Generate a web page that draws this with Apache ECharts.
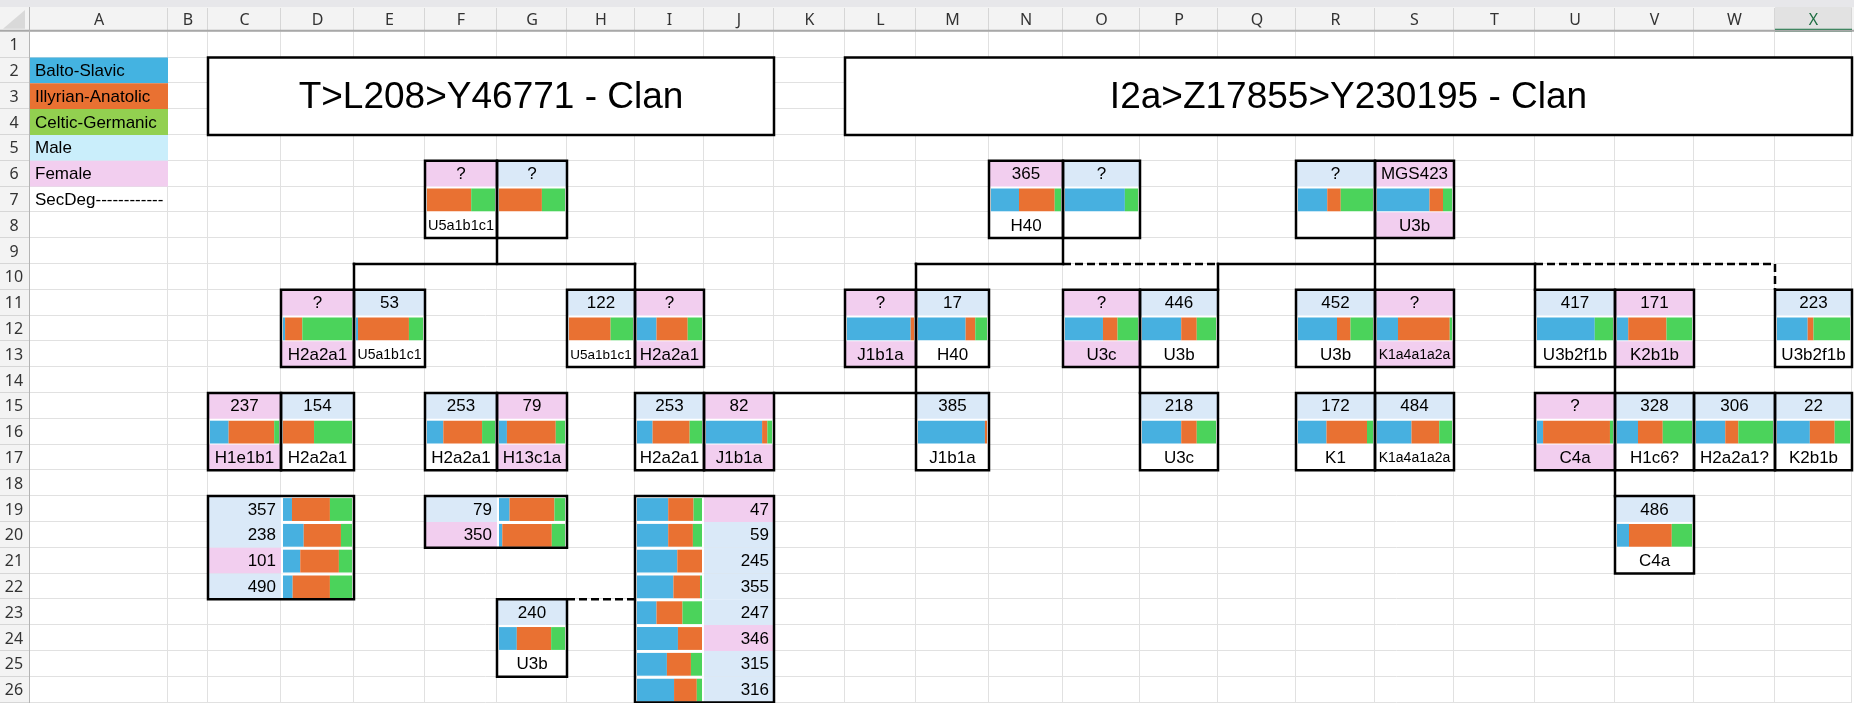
<!DOCTYPE html>
<html>
<head>
<meta charset="utf-8">
<title>Clan tree</title>
<script src="https://cdn.jsdelivr.net/npm/echarts@6.0.0/dist/echarts.min.js"></script>
<style>
html, body { margin: 0; padding: 0; background: #fff; }
#sheet { width: 1854px; height: 703px; }
</style>
</head>
<body>
<div id="sheet"></div>
<script>
// ---- sheet labels ----
var columns = ['A','B','C','D','E','F','G','H','I','J','K','L','M','N','O','P','Q','R','S','T','U','V','W','X'];
var rowLabels = [1,2,3,4,5,6,7,8,9,10,11,12,13,14,15,16,17,18,19,20,21,22,23,24,25,26];
var legendLabels = ['Balto-Slavic','Illyrian-Anatolic','Celtic-Germanic','Male','Female','SecDeg------------'];
var titles = ['T>L208>Y46771 - Clan', 'I2a>Z17855>Y230195 - Clan'];

// ---- people: top cell, sex, id, [Balto-Slavic, Illyrian-Anatolic, Celtic-Germanic] %, haplogroup, pink haplogroup cell ----
var leftClan = [
	['F6','F','?',[0,65,35],'U5a1b1c1',0],
	['G6','M','?',[0,65,35],'',0],
	['D11','F','?',[3,25,72],'H2a2a1',1],
	['E11','M','53',[3,76,21],'U5a1b1c1',0],
	['H11','M','122',[0,65,35],'U5a1b1c1',0],
	['I11','F','?',[30,48,22],'H2a2a1',1],
	['C15','F','237',[27,66,7],'H1e1b1',1],
	['D15','M','154',[0,45,55],'H2a2a1',0],
	['F15','M','253',[24,57,19],'H2a2a1',0],
	['G15','F','79',[12,74,14],'H13c1a',1],
	['I15','M','253',[24,57,19],'H2a2a1',0],
	['J15','F','82',[85,8,7],'J1b1a',1],
	['G23','M','240',[27,52,21],'U3b',0]
];
var middleClan = [
	['N6','F','365',[40,51,9],'H40',0],
	['O6','M','?',[82,0,18],'',0],
	['L11','F','?',[95,5,0],'J1b1a',1],
	['M11','M','17',[69,14,17],'H40',0],
	['M15','M','385',[97,3,0],'J1b1a',0],
	['O11','F','?',[52,20,28],'U3c',1],
	['P11','M','446',[53,21,26],'U3b',0],
	['P15','M','218',[53,21,26],'U3c',0]
];
var rightClan = [
	['R6','M','?',[39,18,43],'',0],
	['S6','F','MGS423',[70,18,12],'U3b',1],
	['R11','M','452',[52,18,30],'U3b',0],
	['S11','F','?',[28,69,3],'K1a4a1a2a',1],
	['R15','M','172',[38,54,8],'K1',0],
	['S15','M','484',[46,37,17],'K1a4a1a2a',0],
	['U11','M','417',[76,0,24],'U3b2f1b',0],
	['V11','F','171',[15,51,34],'K2b1b',1],
	['X11','M','223',[42,8,50],'U3b2f1b',0],
	['U15','F','?',[8,88,4],'C4a',1],
	['V15','M','328',[28,33,39],'H1c6?',0],
	['W15','M','306',[38,17,45],'H2a2a1?',0],
	['X15','M','22',[45,34,21],'K2b1b',0],
	['V19','M','486',[16,57,27],'C4a',0]
];

// ---- second-degree lists: id, sex, mix ----
var listC19 = [['357','M',[13,55,32]],['238','M',[30,54,16]],['101','F',[25,56,19]],['490','M',[14,54,32]]];
var listF19 = [['79','M',[16,68,16]],['350','F',[5,75,20]]];
var listI19 = [['47','F',[48,39,13]],['59','M',[48,38,14]],['245','M',[62,38,0]],['355','M',[56,41,3]],
	['247','M',[30,40,30]],['346','F',[63,37,0]],['315','M',[46,37,17]],['316','M',[57,35,8]]];

// ---- connectors: [column edge, row edge] pairs (left edge of column, top of row) ----
var solidLinks = [
	[['G',9],['G',10]], [['E',10],['I',10]], [['E',10],['E',11]], [['I',10],['I',11]],
	[['K',15],['M',15]],
	[['O',9],['O',10]], [['M',10],['O',10]], [['M',10],['M',11]], [['M',14],['M',15]],
	[['Q',10],['Q',11]], [['P',14],['P',15]],
	[['S',9],['S',11]], [['S',14],['S',15]], [['Q',10],['U',10]], [['U',10],['U',11]],
	[['V',14],['V',15]], [['V',18],['V',19]]
];
var dashedLinks = [
	[['O',10],['Q',10]], [['U',10],['X',10]], [['X',10],['X',11]], [['H',23],['I',23]]
];

// ---- layout ----
var COL_W = [138,40,73,73,71,72,70,68,69,70,71,71,73,74,77,78,78,79,79,81,80,79,81,77];
var ROW_H = 25.8, HDR_H = 31.7, BAND_H = 7, ROWHDR_W = 30;
var Y_MIN = -HDR_H / ROW_H, Y_MAX = (703 - HDR_H) / ROW_H;
var MALE = '#dae9f8', FEMALE = '#f2ceef';
var BAR_COLORS = ['#47b0e0', '#e97132', '#4bd35b'];
var LEGEND_FILLS = ['#44b3e1', '#e97132', '#92d050', '#caeefb', '#f2ceef', null];
var FONT = '"Liberation Sans", Arial, sans-serif';
var HDR_FONT = '16px "Noto Sans", "Open Sans", sans-serif';

var colX = {};
(function () {
	var acc = 0;
	columns.forEach(function (c, i) { colX[c] = acc; acc += COL_W[i]; });
	colX['Y'] = acc;
})();
function leftOf(col) { return colX[col]; }
function rightOf(col) { return colX[col] + COL_W[columns.indexOf(col)]; }
function cellOf(ref) { var m = /^([A-Z])(\d+)$/.exec(ref); return { col: m[1], row: +m[2] }; }

function box(api, x0, y0, x1, y1) {
	var a = api.coord([x0, y0]), b = api.coord([x1, y1]);
	return { x: a[0], y: a[1], width: b[0] - a[0], height: b[1] - a[1] };
}

var measureCtx = document.createElement('canvas').getContext('2d');
function fitSize(text, width, base) {
	measureCtx.font = base + 'px ' + FONT;
	var w = measureCtx.measureText(text).width;
	return w > width - 5 ? Math.floor(base * (width - 5) / w * 2) / 2 : base;
}

// text centred vertically in row `row` between x0 and x1
function label(api, x0, x1, row, text, align, size) {
	var a = api.coord([x0, row - 1]), b = api.coord([x1, row]);
	var x = align === 'right' ? b[0] - 5 : align === 'left' ? a[0] + 5 : (a[0] + b[0]) / 2;
	return {
		type: 'text', x: x, y: (a[1] + b[1]) / 2 + 1, z2: 6,
		style: { text: text, fill: '#000', font: size + 'px ' + FONT, align: align, verticalAlign: 'middle' }
	};
}

function barParts(api, x0, x1, row, mix) {
	var total = mix[0] + mix[1] + mix[2], out = [];
	var pos = x0 + 2, span = (x1 - 2) - pos;
	var yTop = row - 1 + 2 / ROW_H, yBot = row - 1 / ROW_H;
	mix.forEach(function (v, k) {
		if (!v) return;
		var w = span * v / total;
		out.push({ type: 'rect', z2: 2, shape: box(api, pos, yTop, pos + w, yBot), style: { fill: BAR_COLORS[k] } });
		pos += w;
	});
	return out;
}

function peopleSeries(name, clan) {
	return {
		type: 'custom', name: name, coordinateSystem: 'cartesian2d', z: 3, silent: true,
		encode: { x: 0, y: 1 },
		data: clan.map(function (p, i) { var c = cellOf(p[0]); return [leftOf(c.col), c.row - 1, i]; }),
		renderItem: function (params, api) {
			var p = clan[params.dataIndex], c = cellOf(p[0]);
			var x0 = leftOf(c.col), x1 = rightOf(c.col), r = c.row;
			var kids = [];
			kids.push({ type: 'rect', shape: box(api, x0, r - 1, x1, r + 2), style: { fill: '#fff' } });
			kids.push({ type: 'rect', z2: 1, shape: box(api, x0, r - 1, x1, r), style: { fill: p[1] === 'F' ? FEMALE : MALE } });
			kids.push(label(api, x0, x1, r, p[2], 'center', fitSize(p[2], x1 - x0, 17)));
			kids = kids.concat(barParts(api, x0, x1, r + 1, p[3]));
			if (p[5]) kids.push({ type: 'rect', z2: 1, shape: box(api, x0, r + 1, x1, r + 2), style: { fill: FEMALE } });
			if (p[4]) kids.push(label(api, x0, x1, r + 2, p[4], 'center', fitSize(p[4], x1 - x0, 17)));
			kids.push({ type: 'rect', z2: 10, shape: box(api, x0, r - 1, x1, r + 2), style: { fill: 'none', stroke: '#000', lineWidth: 2.5 } });
			return { type: 'group', children: kids };
		}
	};
}

var lists = [
	{ numCol: 'C', barCol: 'D', firstRow: 19, rows: listC19 },
	{ numCol: 'F', barCol: 'G', firstRow: 19, rows: listF19 },
	{ numCol: 'J', barCol: 'I', firstRow: 19, rows: listI19 }
];
var listRows = [];
lists.forEach(function (l, li) {
	l.rows.forEach(function (item, k) { listRows.push([leftOf(l.numCol), l.firstRow + k - 1, li, k]); });
});

function linkData(links) {
	return links.map(function (lk) {
		return [colX[lk[0][0]], lk[0][1] - 1, colX[lk[1][0]], lk[1][1] - 1];
	});
}
function linkSeries(links, dashed) {
	return {
		type: 'custom', coordinateSystem: 'cartesian2d', z: 4, silent: true,
		encode: { x: [0, 2], y: [1, 3] },
		data: linkData(links),
		renderItem: function (params, api) {
			var a = api.coord([api.value(0), api.value(1)]), b = api.coord([api.value(2), api.value(3)]);
			return {
				type: 'line', shape: { x1: a[0], y1: a[1], x2: b[0], y2: b[1] },
				style: { stroke: '#000', lineWidth: 2.5, lineDash: dashed ? [8, 4] : null, lineCap: dashed ? 'butt' : 'square' }
			};
		}
	};
}

var series = [];

// gridlines
series.push({
	type: 'custom', coordinateSystem: 'cartesian2d', z: 0, silent: true,
	data: [[0, 0]],
	renderItem: function (params, api) {
		var kids = [], top = api.coord([0, 0])[1], bottom = api.coord([0, Y_MAX])[1];
		var left = api.coord([0, 0])[0], right = api.coord([colX['Y'], 0])[0];
		columns.concat(['Y']).forEach(function (c) {
			var x = Math.round(api.coord([colX[c], 0])[0]) - 0.5;
			kids.push({ type: 'line', shape: { x1: x, y1: top, x2: x, y2: bottom }, style: { stroke: '#e1e1e1', lineWidth: 1 } });
		});
		for (var r = 1; r <= rowLabels.length + 1; r++) {
			var y = Math.round(api.coord([0, r - 1])[1]) - 0.5;
			kids.push({ type: 'line', shape: { x1: left, y1: y, x2: right, y2: y }, style: { stroke: '#e1e1e1', lineWidth: 1 } });
		}
		return { type: 'group', children: kids };
	}
});

// legend cells in column A
series.push({
	type: 'custom', coordinateSystem: 'cartesian2d', z: 1, silent: true,
	encode: { x: 0, y: 1 },
	data: legendLabels.map(function (t, i) { return [0, i + 1]; }),
	renderItem: function (params, api) {
		var i = params.dataIndex, row = i + 2, kids = [];
		if (LEGEND_FILLS[i]) kids.push({ type: 'rect', shape: box(api, 0, row - 1, rightOf('A'), row), style: { fill: LEGEND_FILLS[i] } });
		kids.push(label(api, 0, rightOf('A'), row, legendLabels[i], 'left', 17));
		return { type: 'group', children: kids };
	}
});

// clan titles
var titleBoxes = [['C', 'J'], ['L', 'X']];
series.push({
	type: 'custom', coordinateSystem: 'cartesian2d', z: 1, silent: true,
	encode: { x: 0, y: 1 },
	data: titles.map(function (t, i) { return [leftOf(titleBoxes[i][0]), 1]; }),
	renderItem: function (params, api) {
		var b = titleBoxes[params.dataIndex], x0 = leftOf(b[0]), x1 = rightOf(b[1]);
		var a = api.coord([x0, 1]), z = api.coord([x1, 4]);
		return { type: 'group', children: [
			{ type: 'rect', shape: box(api, x0, 1, x1, 4), style: { fill: '#fff', stroke: '#000', lineWidth: 2.5 } },
			{ type: 'text', x: (a[0] + z[0]) / 2, y: (a[1] + z[1]) / 2 + 2,
				style: { text: titles[params.dataIndex], fill: '#000', font: '37px ' + FONT, align: 'center', verticalAlign: 'middle' } }
		] };
	}
});

series.push(peopleSeries('T>L208>Y46771', leftClan));
series.push(peopleSeries('I2a>Z17855 left', middleClan));
series.push(peopleSeries('I2a>Z17855 right', rightClan));

// list rows
series.push({
	type: 'custom', coordinateSystem: 'cartesian2d', z: 3, silent: true,
	encode: { x: 0, y: 1 },
	data: listRows,
	renderItem: function (params, api) {
		var l = lists[api.value(2)], item = l.rows[api.value(3)], row = l.firstRow + api.value(3);
		var nx0 = leftOf(l.numCol), nx1 = rightOf(l.numCol), bx0 = leftOf(l.barCol), bx1 = rightOf(l.barCol);
		var kids = [
			{ type: 'rect', shape: box(api, nx0, row - 1, nx1, row), style: { fill: item[1] === 'F' ? FEMALE : MALE } },
			{ type: 'rect', shape: box(api, bx0, row - 1, bx1, row), style: { fill: '#fff' } },
			label(api, nx0, nx1, row, item[0], 'right', 17)
		];
		return { type: 'group', children: kids.concat(barParts(api, bx0, bx1, row, item[2])) };
	}
});
// list frames
series.push({
	type: 'custom', coordinateSystem: 'cartesian2d', z: 4, silent: true,
	encode: { x: 0, y: 1 },
	data: lists.map(function (l, i) { return [leftOf(l.numCol), l.firstRow - 1, i]; }),
	renderItem: function (params, api) {
		var l = lists[params.dataIndex];
		var x0 = Math.min(leftOf(l.numCol), leftOf(l.barCol)), x1 = Math.max(rightOf(l.numCol), rightOf(l.barCol));
		return { type: 'rect', shape: box(api, x0, l.firstRow - 1, x1, l.firstRow - 1 + l.rows.length),
			style: { fill: 'none', stroke: '#000', lineWidth: 2.5 } };
	}
});

series.push(linkSeries(solidLinks, false));
series.push(linkSeries(dashedLinks, true));

// column and row headers
series.push({
	type: 'custom', coordinateSystem: 'cartesian2d', z: 6, silent: true,
	data: [[0, 0]],
	renderItem: function (params, api) {
		var kids = [];
		var yBand = Y_MIN + BAND_H / ROW_H;
		kids.push({ type: 'rect', shape: box(api, -ROWHDR_W, Y_MIN, colX['Y'] + 10, yBand), style: { fill: '#e7e7ea' } });
		kids.push({ type: 'rect', shape: box(api, -ROWHDR_W, yBand, colX['Y'] + 10, 0), style: { fill: '#f3f3f3' } });
		kids.push({ type: 'rect', shape: box(api, -ROWHDR_W, 0, 0, Y_MAX), style: { fill: '#f3f3f3' } });
		columns.forEach(function (c, i) {
			var sel = c === 'X';
			var a = api.coord([leftOf(c), yBand]), b = api.coord([rightOf(c), 0]);
			if (sel) kids.push({ type: 'rect', shape: { x: a[0], y: a[1], width: b[0] - a[0], height: b[1] - a[1] }, style: { fill: '#e2e2e2' } });
			var xs = Math.round(b[0]) - 0.5;
			kids.push({ type: 'line', shape: { x1: xs, y1: a[1] + 1, x2: xs, y2: b[1] }, style: { stroke: '#d6d6d6', lineWidth: 1 } });
			kids.push({ type: 'text', x: (a[0] + b[0]) / 2, y: (a[1] + b[1]) / 2 + 1,
				style: { text: c, fill: sel ? '#1e6e42' : '#333333', font: HDR_FONT, align: 'center', verticalAlign: 'middle' } });
			if (sel) kids.push({ type: 'rect', shape: { x: a[0], y: b[1] - 3, width: b[0] - a[0], height: 3 }, style: { fill: '#1f7a4a' } });
		});
		rowLabels.forEach(function (n, i) {
			var a = api.coord([-ROWHDR_W, i]), b = api.coord([0, i + 1]);
			var ys = Math.round(b[1]) - 0.5;
			kids.push({ type: 'line', shape: { x1: a[0], y1: ys, x2: b[0], y2: ys }, style: { stroke: '#d6d6d6', lineWidth: 1 } });
			kids.push({ type: 'text', x: (a[0] + b[0]) / 2 - 1, y: (a[1] + b[1]) / 2 + 1,
				style: { text: String(n), fill: '#333333', font: HDR_FONT, align: 'center', verticalAlign: 'middle' } });
		});
		var o = api.coord([0, 0]), e = api.coord([colX['Y'] + 10, Y_MAX]);
		kids.push({ type: 'line', shape: { x1: api.coord([-ROWHDR_W, 0])[0], y1: o[1] - 1, x2: e[0], y2: o[1] - 1 }, style: { stroke: '#a8a8a8', lineWidth: 2 } });
		kids.push({ type: 'line', shape: { x1: o[0] - 0.5, y1: api.coord([0, yBand])[1], x2: o[0] - 0.5, y2: e[1] }, style: { stroke: '#b4b4b4', lineWidth: 1 } });
		var c0 = api.coord([-ROWHDR_W, 0]);
		kids.push({ type: 'polygon', shape: { points: [[c0[0] + 3, o[1] - 3], [o[0] - 5, o[1] - 3], [o[0] - 5, api.coord([0, yBand])[1] + 3]] }, style: { fill: '#d9d9d9' } });
		return { type: 'group', children: kids };
	}
});

var chart = echarts.init(document.getElementById('sheet'));
chart.setOption({
	animation: false,
	backgroundColor: '#ffffff',
	grid: { left: 0, right: 0, top: 0, bottom: 0, containLabel: false },
	xAxis: { type: 'value', min: -ROWHDR_W, max: 1854 - ROWHDR_W, show: false },
	yAxis: { type: 'value', inverse: true, min: Y_MIN, max: Y_MAX, show: false },
	series: series
});
</script>
</body>
</html>
